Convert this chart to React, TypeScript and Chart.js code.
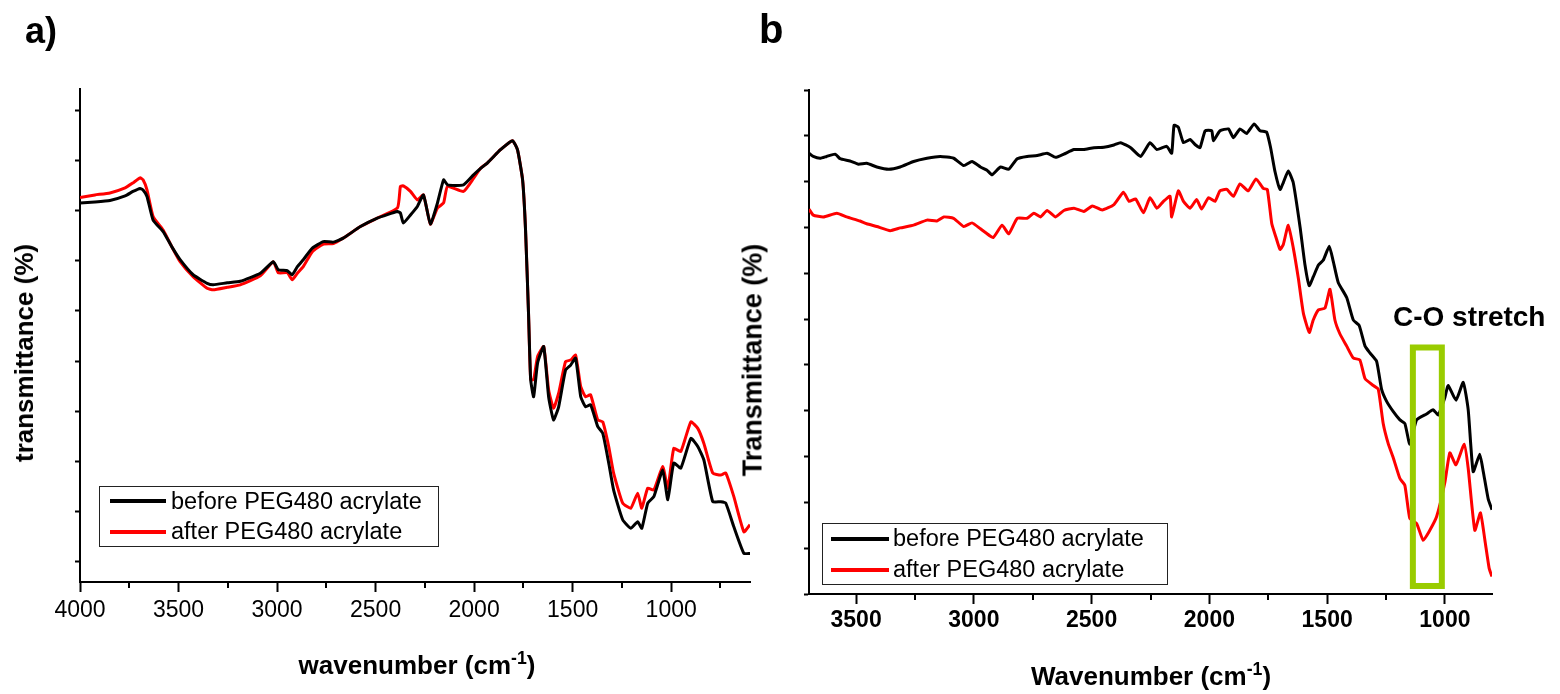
import React, { useEffect, useRef } from 'react';
import { Chart, registerables } from 'chart.js';

Chart.register(...registerables);

const FONT = '"Liberation Sans", Arial, Helvetica, sans-serif';

// ---------- Panel a ----------
const aWave = [
  4000, 3924, 3848, 3771, 3731, 3695, 3680, 3660, 3629, 3578,
  3533, 3492, 3426, 3355, 3324, 3253, 3187, 3085, 3019, 2994,
  2948, 2923, 2897, 2867, 2821, 2765, 2714, 2664, 2577, 2491,
  2389, 2374, 2359, 2323, 2288, 2257, 2222, 2186, 2155, 2135,
  2054, 2003, 1967, 1932, 1866, 1805, 1780, 1754, 1739, 1724,
  1713, 1698, 1678, 1647, 1622, 1597, 1571, 1536, 1510, 1485,
  1459, 1434, 1409, 1373, 1347, 1317, 1292, 1246, 1205, 1170,
  1149, 1119, 1088, 1043, 1017, 987, 951, 900, 865, 834,
  789, 748, 723, 682, 631, 600,
];
const aBefore = [
  71.5, 71.7, 72.0, 72.9, 73.8, 74.4, 74.1, 72.8, 68.1, 65.8,
  62.7, 60.2, 57.2, 55.5, 55.2, 55.6, 55.9, 57.5, 59.8, 58.2,
  58.0, 57.2, 58.8, 60.2, 62.5, 63.8, 63.7, 64.5, 66.8, 68.5,
  69.8, 69.5, 67.5, 69.1, 70.8, 73.1, 67.3, 71.5, 76.1, 75.1,
  75.1, 77.1, 78.4, 79.5, 82.1, 83.9, 82.1, 76.1, 66.1, 49.6,
  36.3, 32.9, 39.6, 42.9, 32.9, 28.3, 30.9, 38.2, 39.2, 40.6,
  32.9, 30.9, 31.3, 27.0, 25.6, 19.7, 14.3, 8.4, 6.7, 8.0,
  6.7, 11.7, 13.0, 18.3, 12.4, 19.7, 18.7, 24.6, 23.0, 20.3,
  12.0, 12.0, 11.7, 7.0, 1.7, 1.7,
];
const aAfter = [
  72.6, 73.1, 73.5, 74.5, 75.5, 76.5, 76.1, 74.1, 68.8, 66.1,
  62.7, 59.8, 56.8, 54.5, 54.2, 54.7, 55.2, 57.0, 59.8, 57.6,
  57.6, 56.2, 57.5, 58.8, 61.8, 63.3, 63.4, 64.5, 66.8, 68.5,
  70.5, 74.8, 74.9, 73.8, 72.1, 73.1, 67.3, 70.5, 71.5, 74.8,
  73.8, 76.4, 78.4, 79.5, 82.1, 83.9, 82.1, 76.1, 66.1, 49.6,
  36.3, 36.3, 40.9, 42.9, 34.3, 30.6, 33.6, 39.9, 40.2, 41.2,
  34.9, 32.9, 33.3, 28.3, 27.9, 23.0, 17.7, 11.7, 10.7, 13.7,
  10.7, 14.7, 14.3, 19.0, 14.7, 22.6, 22.0, 27.9, 26.6, 23.6,
  17.7, 17.3, 17.7, 13.0, 6.0, 7.4,
];

// ---------- Panel b ----------
const bBeforeWave = [
  3700, 3682, 3653, 3625, 3589, 3568, 3526, 3490, 3455, 3412,
  3362, 3313, 3256, 3199, 3143, 3086, 3043, 3008, 2972, 2944,
  2923, 2887, 2852, 2816, 2774, 2731, 2689, 2653, 2618, 2575,
  2533, 2490, 2448, 2405, 2377, 2334, 2292, 2252, 2223, 2181,
  2160, 2150, 2132, 2110, 2082, 2061, 2040, 2018, 1990, 1983,
  1955, 1919, 1898, 1870, 1842, 1810, 1785, 1757, 1740, 1721,
  1700, 1686, 1665, 1644, 1615, 1594, 1576, 1559, 1537, 1516,
  1491, 1474, 1453, 1417, 1389, 1364, 1339, 1318, 1290, 1269,
  1248, 1219, 1191, 1170, 1149, 1120, 1078, 1050, 1028, 1000,
  986, 953, 922, 901, 880, 852, 837, 816, 800,
];
const bBeforeT = [
  96.2, 95.5, 95.1, 95.5, 96.0, 95.0, 94.5, 93.8, 94.0, 93.2,
  92.7, 93.2, 94.4, 95.1, 95.5, 95.1, 93.5, 94.4, 93.2, 92.5,
  91.5, 93.2, 92.7, 95.0, 95.5, 95.7, 96.2, 95.3, 96.0, 97.0,
  97.0, 97.4, 97.5, 98.0, 98.5, 97.4, 95.5, 98.5, 97.0, 97.7,
  96.2, 102.3, 101.9, 98.5, 99.2, 98.1, 97.4, 101.1, 101.1, 98.9,
  101.1, 101.5, 99.6, 101.5, 100.5, 102.6, 101.1, 100.8, 97.4, 92.1,
  88.3, 89.8, 92.3, 89.8, 80.1, 71.8, 67.3, 69.2, 71.8, 72.9,
  75.9, 72.6, 68.0, 64.7, 59.8, 58.6, 54.1, 52.6, 50.8, 44.7,
  42.1, 39.8, 38.0, 37.2, 32.7, 38.0, 39.3, 40.2, 39.1, 42.9,
  45.5, 42.3, 46.2, 40.2, 26.7, 30.5, 26.7, 20.7, 18.4,
];
const bAfterWave = [
  3700, 3682, 3639, 3582, 3540, 3483, 3455, 3412, 3355, 3313,
  3256, 3199, 3157, 3128, 3086, 3043, 3008, 2972, 2951, 2918,
  2880, 2852, 2816, 2774, 2745, 2717, 2689, 2653, 2618, 2575,
  2533, 2497, 2455, 2405, 2365, 2341, 2313, 2280, 2252, 2223,
  2195, 2167, 2160, 2132, 2110, 2082, 2054, 2033, 2004, 1976,
  1955, 1926, 1898, 1870, 1835, 1802, 1771, 1754, 1735, 1717,
  1700, 1686, 1665, 1644, 1622, 1601, 1576, 1559, 1537, 1509,
  1488, 1467, 1446, 1417, 1389, 1361, 1339, 1304, 1283, 1262,
  1240, 1219, 1191, 1170, 1149, 1120, 1092, 1064, 1035, 1000,
  979, 953, 918, 901, 873, 849, 830, 812, 800,
];
const bAfterT = [
  84.0, 82.7, 82.3, 83.1, 82.3, 81.4, 80.8, 80.2, 79.3, 79.9,
  80.5, 81.6, 81.4, 82.3, 82.0, 80.2, 81.0, 79.7, 78.9, 77.8,
  80.5, 78.6, 82.0, 82.0, 83.1, 82.3, 83.7, 82.3, 83.7, 84.2,
  83.5, 84.7, 83.8, 85.0, 87.7, 85.7, 86.2, 83.2, 86.5, 84.2,
  85.7, 86.8, 82.3, 88.0, 85.7, 84.2, 86.1, 84.0, 86.5, 85.7,
  88.0, 88.3, 86.8, 89.5, 88.0, 90.6, 88.5, 88.3, 80.8, 77.8,
  75.2, 76.3, 80.5, 75.6, 68.8, 61.3, 57.1, 59.8, 62.0, 62.4,
  66.5, 59.8, 56.8, 54.1, 51.5, 51.1, 47.0, 45.5, 44.7, 37.2,
  32.7, 29.7, 25.2, 23.7, 16.5, 15.4, 11.7, 13.9, 16.9, 24.4,
  30.8, 28.2, 32.7, 27.4, 13.9, 17.7, 11.7, 5.6, 3.8,
];

const seriesLabels = ['before PEG480 acrylate', 'after PEG480 acrylate'];
const seriesColors = ['#000000', '#ff0000'];
const aXRange = [600, 4000];
const bXRange = [800, 3700];
const aYRange = [-4, 94.2];
const bYRange = [0, 110];
const coStretchWave = [1136, 1013];
const coStretchT = [1.75, 53.8];

const minorTicks = {
  id: 'minorTicks',
  afterDraw(chart: any, _args: any, opts: any) {
    const s = chart.scales.x;
    const ctx = chart.ctx;
    ctx.save();
    ctx.strokeStyle = '#000';
    ctx.lineWidth = 2;
    s.ticks.forEach((t: any) => {
      if (t.value % 500 !== 0) {
        const x = Math.round(s.getPixelForValue(t.value));
        ctx.beginPath();
        ctx.moveTo(x, s.top);
        ctx.lineTo(x, s.top + (opts.length || 6));
        ctx.stroke();
      }
    });
    ctx.restore();
  },
};

const coBox = {
  id: 'coBox',
  afterDatasetsDraw(chart: any) {
    const { x, y } = chart.scales;
    const x1 = x.getPixelForValue(coStretchWave[0]);
    const x2 = x.getPixelForValue(coStretchWave[1]);
    const y1 = y.getPixelForValue(coStretchT[1]);
    const y2 = y.getPixelForValue(coStretchT[0]);
    const ctx = chart.ctx;
    ctx.save();
    ctx.strokeStyle = '#99cc00';
    ctx.lineWidth = 6;
    ctx.strokeRect(x1, y1, x2 - x1, y2 - y1);
    ctx.restore();
  },
};

function makeDataset(label: string, color: string, xs: number[], ys: number[]) {
  return {
    label,
    data: xs.map((w, i) => ({ x: w, y: ys[i] })),
    borderColor: color,
    backgroundColor: color,
    borderWidth: 3,
    pointRadius: 0,
    tension: 0.15,
    borderJoinStyle: 'round' as const,
    fill: false,
  };
}

function makeConfig(p: any) {
  return {
    type: 'line' as const,
    data: { datasets: p.datasets },
    options: {
      responsive: false,
      animation: false,
      devicePixelRatio: 1,
      events: [],
      layout: { padding: { left: 0, top: p.padTop, right: p.padRight, bottom: 0 } },
      plugins: {
        legend: { display: false },
        tooltip: { enabled: false },
        minorTicks: { length: 6 },
      },
      scales: {
        x: {
          type: 'linear',
          reverse: true,
          min: p.xRange[0],
          max: p.xRange[1],
          afterFit: (s: any) => { s.height = p.xHeight; },
          border: { display: true, color: '#000', width: 2 },
          grid: {
            display: true,
            drawOnChartArea: false,
            drawTicks: true,
            tickLength: 10,
            tickWidth: 2,
            tickColor: (c: any) => (c.tick && c.tick.value % 500 === 0 ? '#000' : 'rgba(0,0,0,0)'),
          },
          ticks: {
            stepSize: 250,
            includeBounds: false,
            autoSkip: false,
            maxRotation: 0,
            minRotation: 0,
            padding: p.tickPad,
            color: '#000',
            font: { family: FONT, size: 23, weight: p.tickBold ? 'bold' : 'normal' },
            callback: (v: any) => (Number(v) % 500 === 0 ? String(v) : ''),
          },
        },
        y: {
          type: 'linear',
          min: p.yRange[0],
          max: p.yRange[1],
          afterFit: (s: any) => { s.width = p.yWidth; },
          border: { display: true, color: '#000', width: 2 },
          grid: {
            display: true,
            drawOnChartArea: false,
            drawTicks: true,
            tickLength: 5,
            tickWidth: 2,
            tickColor: '#000',
          },
          ticks: { stepSize: 10, includeBounds: false, display: false },
        },
      },
    },
    plugins: p.plugins,
  };
}

function Txt(props: { x: number; baseline: number; size: number; bold?: boolean; center?: boolean; children: any }) {
  const { x, baseline, size, bold, center, children } = props;
  return (
    <div
      style={{
        position: 'absolute',
        left: x,
        top: baseline - 0.8465 * size,
        fontSize: size,
        lineHeight: `${size}px`,
        fontWeight: bold ? 700 : 400,
        whiteSpace: 'nowrap',
        color: '#000',
        transform: center ? 'translateX(-50%)' : undefined,
      }}
    >
      {children}
    </div>
  );
}

function VTxt(props: { cx: number; cy: number; size: number; children: any }) {
  const { cx, cy, size, children } = props;
  return (
    <div
      style={{
        position: 'absolute',
        left: cx,
        top: cy,
        fontSize: size,
        lineHeight: `${size}px`,
        fontWeight: 700,
        whiteSpace: 'nowrap',
        color: '#000',
        transform: 'translate(-50%, -50%) rotate(-90deg)',
      }}
    >
      {children}
    </div>
  );
}

function Legend(props: { left: number; top: number; width: number; height: number; lineX: number; lineW: number; rows: number[]; textX: number; baselines: number[] }) {
  const p = props;
  return (
    <>
      <div
        style={{
          position: 'absolute',
          left: p.left,
          top: p.top,
          width: p.width,
          height: p.height,
          border: '1.5px solid #222',
          boxSizing: 'border-box',
        }}
      />
      {seriesLabels.map((lab, i) => (
        <React.Fragment key={lab}>
          <div
            style={{
              position: 'absolute',
              left: p.lineX,
              top: p.rows[i] - 2,
              width: p.lineW,
              height: 4,
              background: seriesColors[i],
            }}
          />
          <Txt x={p.textX} baseline={p.baselines[i]} size={23.5}>
            {lab}
          </Txt>
        </React.Fragment>
      ))}
    </>
  );
}

export default function App() {
  const refA = useRef<HTMLCanvasElement>(null);
  const refB = useRef<HTMLCanvasElement>(null);

  useEffect(() => {
    Chart.defaults.font.family = FONT;
    const chartA = new Chart(
      refA.current as HTMLCanvasElement,
      makeConfig({
        datasets: [
          makeDataset(seriesLabels[0], seriesColors[0], aWave, aBefore),
          makeDataset(seriesLabels[1], seriesColors[1], aWave, aAfter),
        ],
        xRange: aXRange,
        yRange: aYRange,
        padTop: 89,
        padRight: 30,
        xHeight: 112,
        yWidth: 80,
        tickPad: 5,
        tickBold: false,
        plugins: [minorTicks],
      }) as any
    );
    const chartB = new Chart(
      refB.current as HTMLCanvasElement,
      makeConfig({
        datasets: [
          makeDataset(seriesLabels[0], seriesColors[0], bBeforeWave, bBeforeT),
          makeDataset(seriesLabels[1], seriesColors[1], bAfterWave, bAfterT),
        ],
        xRange: bXRange,
        yRange: bYRange,
        padTop: 90,
        padRight: 68,
        xHeight: 100,
        yWidth: 29,
        tickPad: 3,
        tickBold: true,
        plugins: [minorTicks, coBox],
      }) as any
    );
    return () => {
      chartA.destroy();
      chartB.destroy();
    };
  }, []);

  return (
    <div
      style={{
        position: 'absolute',
        left: 0,
        top: 0,
        width: 1560,
        height: 694,
        overflow: 'hidden',
        background: '#fff',
        fontFamily: FONT,
      }}
    >
      <canvas ref={refA} width={780} height={694} style={{ position: 'absolute', left: 0, top: 0, width: 780, height: 694 }} />
      <canvas ref={refB} width={780} height={694} style={{ position: 'absolute', left: 780, top: 0, width: 780, height: 694 }} />

      <Txt x={25} baseline={43} size={36} bold>a)</Txt>
      <Txt x={759} baseline={43} size={40} bold>b</Txt>

      <VTxt cx={24} cy={353} size={26}>transmittance (%)</VTxt>
      <VTxt cx={753} cy={360} size={27}>Transmittance (%)</VTxt>

      <Txt x={417} baseline={674} size={26} bold center>
        wavenumber (cm<span style={{ fontSize: '0.68em', position: 'relative', top: '-0.55em' }}>-1</span>)
      </Txt>
      <Txt x={1151} baseline={685} size={26} bold center>
        Wavenumber (cm<span style={{ fontSize: '0.68em', position: 'relative', top: '-0.55em' }}>-1</span>)
      </Txt>

      <Txt x={1393} baseline={327} size={28} bold>C-O stretch</Txt>

      <Legend left={99} top={486} width={340} height={61} lineX={110} lineW={56} rows={[501, 532]} textX={171} baselines={[510, 540]} />
      <Legend left={822} top={523} width={346} height={62} lineX={831} lineW={58} rows={[539, 570]} textX={893} baselines={[547, 578]} />
    </div>
  );
}
